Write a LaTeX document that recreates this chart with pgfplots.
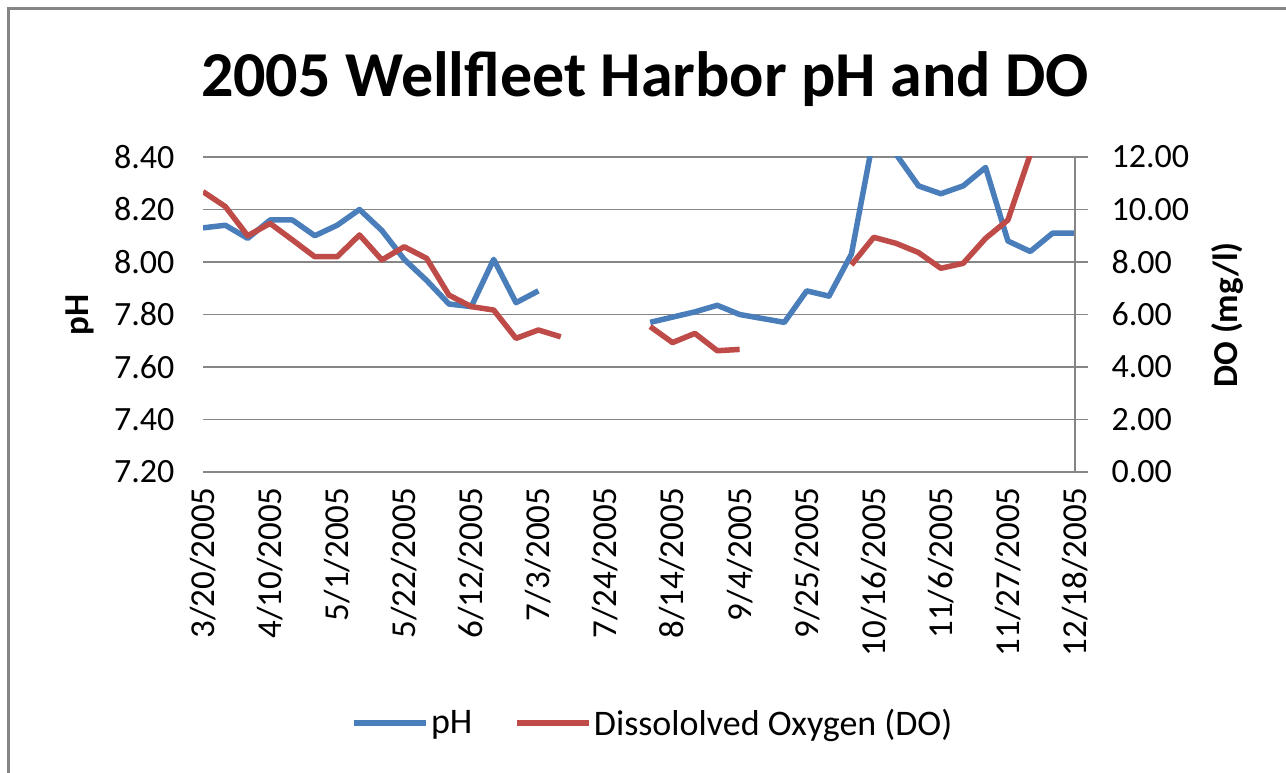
\documentclass[border=0pt]{standalone}
\usepackage{fontspec}
\setmainfont{Carlito}
\usepackage{pgfplots}
\usepackage{pgfplotstable}
\pgfplotsset{compat=1.18}
\definecolor{phblue}{HTML}{4A7EBB}
\definecolor{dored}{HTML}{BE4B48}
\definecolor{axgray}{HTML}{868686}

\pgfplotstableread{
week pH DO
0 8.13 10.68
1 8.14 10.11
2 8.09 9.00
3 8.16 9.47
4 8.16 8.84
5 8.10 8.20
6 8.14 8.20
7 8.20 9.03
8 8.12 8.08
9 8.01 8.58
10 7.93 8.14
11 7.84 6.74
12 7.83 6.30
13 8.01 6.17
14 7.845 5.09
15 7.89 5.41
16 nan 5.15
17 nan nan
18 nan nan
19 nan nan
20 7.77 5.54
21 7.79 4.93
22 7.81 5.28
23 7.835 4.62
24 7.80 4.67
25 7.785 nan
26 7.77 nan
27 7.89 nan
28 7.87 nan
29 8.03 7.89
30 8.48 8.94
31 8.41 8.71
32 8.29 8.36
33 8.26 7.76
34 8.29 7.95
35 8.36 8.90
36 8.08 9.60
37 8.04 12.10
38 8.11 13.00
39 8.11 13.50
}\datatable

\begin{document}
\begin{tikzpicture}[x=1pt,y=1pt]
\useasboundingbox (0,0) rectangle (1286,773);
\draw[axgray, line width=3.5pt] (8.5,-20) -- (8.5,764.5) -- (1300,764.5);
\node[anchor=base, font=\fontsize{64}{77}\selectfont\bfseries] at (645,676) {2005 Wellfleet Harbor pH and DO};
\node[rotate=90, font=\fontsize{35}{42}\selectfont\bfseries] at (80,458) {pH};
\node[rotate=90, font=\fontsize{35}{42}\selectfont\bfseries] at (1227,458) {DO (mg/l)};
\begin{axis}[
  at={(203pt,301pt)}, anchor=south west,
  scale only axis, width=872pt, height=315pt,
  xmin=0, xmax=39, ymin=7.2, ymax=8.4,
  axis x line*=bottom, axis y line*=left,
  x axis line style={draw=axgray, line width=1.5pt, -},
  y axis line style={draw=none},
  xtick={0,3,...,39},
  xticklabels={3/20/2005,4/10/2005,5/1/2005,5/22/2005,6/12/2005,7/3/2005,7/24/2005,8/14/2005,9/4/2005,9/25/2005,10/16/2005,11/6/2005,11/27/2005,12/18/2005},
  ytick={7.2,7.4,7.6,7.8,8.0,8.2,8.4},
  ymajorgrids, major grid style={axgray, line width=1.5pt},
  tick style={draw=none},
  /pgf/number format/assume math mode=true,
  y tick label style={font=\fontsize{34}{40}\selectfont, anchor=east, xshift=-25pt, /pgf/number format/fixed, /pgf/number format/fixed zerofill, /pgf/number format/precision=2},
  x tick label style={rotate=90, anchor=east, font=\fontsize{35}{42}\selectfont},
  xticklabel shift=12pt,
  unbounded coords=jump,
]
\addplot[phblue, line width=5.5pt, line join=round] table[x=week,y=pH]{\datatable};
\end{axis}
\begin{axis}[
  at={(203pt,301pt)}, anchor=south west,
  scale only axis, width=872pt, height=315pt,
  xmin=0, xmax=39, ymin=0, ymax=12,
  axis x line=none, axis y line*=right,
  y axis line style={draw=axgray, line width=1.5pt, -},
  ytick={0,2,4,6,8,10,12},
  ytick style={draw=axgray, line width=1.5pt},
  tick align=outside, major tick length=13pt,
  /pgf/number format/assume math mode=true,
  y tick label style={font=\fontsize{34}{40}\selectfont, anchor=west, /pgf/number format/fixed, /pgf/number format/fixed zerofill, /pgf/number format/precision=2},
  yticklabel shift=20pt,
  unbounded coords=jump,
  legend columns=2,
  legend style={draw=none, fill=none, font=\fontsize{36}{43}\selectfont, at={(0.516,-0.797)}, anchor=center, /tikz/every even column/.append style={column sep=40pt}},
  legend image code/.code={\draw[#1] (0pt,0pt) -- (72pt,0pt);},
]
\addlegendimage{phblue, line width=5.5pt}
\addlegendentry{pH}
\addplot[dored, line width=5.5pt, line join=round] table[x=week,y=DO]{\datatable};
\addlegendentry{Dissololved Oxygen (DO)}
\end{axis}
\end{tikzpicture}
\end{document}
